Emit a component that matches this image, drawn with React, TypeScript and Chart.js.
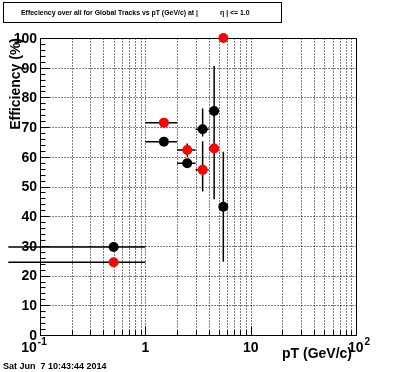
import React, { useEffect, useRef } from "react";
import { Chart, registerables } from "chart.js";

Chart.register(...registerables);

// ---- data ----
const binCenters = [0.5, 1.5, 2.5, 3.5, 4.5, 5.5];
const binLow = [0.05, 1, 2, 3, 4, 5];
const binHigh = [1, 2, 3, 4, 5, 6];
const blackEff = [29.6, 65.1, 57.8, 69.3, 75.4, 43.2];
const blackErrLow = [0, 0, 1.5, 2.5, 15.4, 18.5];
const blackErrHigh = [0, 0, 1.5, 7.0, 15.2, 18.5];
const redEff = [24.5, 71.5, 62.3, 55.6, 62.8, 100];
const redErrLow = [0, 0, 2.3, 7.3, 17.1, 0];
const redErrHigh = [0, 0, 2.2, 9.6, 12.2, 0];

const xMajorTicks = [0.1, 1, 10, 100];
const xMajorBase = ["10", "1", "10", "10"];
const xMajorExp = ["-1", "", "", "2"];
const xMinorTicks = [0.2, 0.3, 0.4, 0.5, 0.6, 0.7, 0.8, 0.9, 2, 3, 4, 5, 6, 7, 8, 9, 20, 30, 40, 50, 60, 70, 80, 90];
const yMajorTicks = [0, 10, 20, 30, 40, 50, 60, 70, 80, 90, 100];
const yMinorTicks = [2, 4, 6, 8, 12, 14, 16, 18, 22, 24, 26, 28, 32, 34, 36, 38, 42, 44, 46, 48, 52, 54, 56, 58, 62, 64, 66, 68, 72, 74, 76, 78, 82, 84, 86, 88, 92, 94, 96, 98];

const titleText = "Effeciency over all for Global Tracks vs pT (GeV/c) at |";
const titleText2 = "\u03b7 | <= 1.0";
const yTitle = "Efficiency (%)";
const xTitle = "pT (GeV/c)";
const dateText = "Sat Jun  7 10:43:44 2014";

const FONT = "'Liberation Sans', Arial, Helvetica, sans-serif";

const rootPlugin = {
  id: "rootStyle",
  beforeDraw(chart: any) {
    const ctx = chart.ctx;
    ctx.save();
    ctx.fillStyle = "#fff";
    ctx.fillRect(0, 0, chart.width, chart.height);
    ctx.restore();
  },
  beforeDatasetsDraw(chart: any) {
    const ctx: CanvasRenderingContext2D = chart.ctx;
    const a = chart.chartArea;
    const xs = chart.scales.x;
    const ys = chart.scales.y;
    const L = Math.round(a.left) + 0.5;
    const R = Math.round(a.right) + 0.5;
    const T = Math.round(a.top) + 0.5;
    const B = Math.round(a.bottom) + 0.5;
    const px = (v: number) => Math.round(xs.getPixelForValue(v)) + 0.5;
    const py = (v: number) => Math.round(ys.getPixelForValue(v)) + 0.5;
    ctx.save();
    ctx.strokeStyle = "#000";
    ctx.fillStyle = "#000";
    ctx.lineWidth = 1;

    // grid
    ctx.setLineDash([1, 2]);
    ctx.beginPath();
    [...xMinorTicks, ...xMajorTicks].forEach((v) => {
      const p = px(v);
      if (p <= L + 1 || p >= R - 1) return;
      ctx.moveTo(p, T);
      ctx.lineTo(p, B);
    });
    yMajorTicks.forEach((v) => {
      const p = py(v);
      if (p <= T + 1 || p >= B - 1) return;
      ctx.moveTo(L, p);
      ctx.lineTo(R, p);
    });
    ctx.stroke();
    ctx.setLineDash([]);

    // frame
    ctx.strokeRect(L, T, R - L, B - T);

    // ticks
    ctx.beginPath();
    yMajorTicks.forEach((v) => {
      const p = py(v);
      ctx.moveTo(L, p);
      ctx.lineTo(L + 9, p);
    });
    yMinorTicks.forEach((v) => {
      const p = py(v);
      ctx.moveTo(L, p);
      ctx.lineTo(L + 5, p);
    });
    xMajorTicks.forEach((v) => {
      const p = px(v);
      ctx.moveTo(p, B);
      ctx.lineTo(p, B - 9);
    });
    xMinorTicks.forEach((v) => {
      const p = px(v);
      ctx.moveTo(p, B);
      ctx.lineTo(p, B - 5);
    });
    ctx.stroke();

    // y tick labels
    ctx.font = `bold 14px ${FONT}`;
    ctx.textAlign = "right";
    ctx.textBaseline = "middle";
    yMajorTicks.forEach((v) => {
      ctx.fillText(String(v), a.left - 3, ys.getPixelForValue(v) + 1);
    });

    // x tick labels
    ctx.textBaseline = "alphabetic";
    xMajorTicks.forEach((v, i) => {
      const base = xMajorBase[i];
      const exp = xMajorExp[i];
      const p = xs.getPixelForValue(v);
      ctx.font = `bold 14px ${FONT}`;
      const wb = ctx.measureText(base).width;
      ctx.font = `bold 10px ${FONT}`;
      const we = exp ? ctx.measureText(exp).width + 1 : 0;
      const shift = i === 0 ? -6 : i === 3 ? 3 : 0;
      const x0 = p - (wb + we) / 2 + shift;
      ctx.textAlign = "left";
      ctx.font = `bold 14px ${FONT}`;
      ctx.fillText(base, x0, 352);
      if (exp) {
        ctx.font = `bold 10px ${FONT}`;
        ctx.fillText(exp, x0 + wb + 1, 345);
      }
    });

    // axis titles
    ctx.font = `bold 14px ${FONT}`;
    ctx.textAlign = "right";
    ctx.fillText(xTitle, a.right - 4, 358);
    ctx.save();
    ctx.translate(20, a.top);
    ctx.rotate(-Math.PI / 2);
    ctx.textAlign = "right";
    ctx.textBaseline = "alphabetic";
    ctx.fillText(yTitle, 0, 0);
    ctx.restore();

    // title box
    ctx.strokeRect(3.5, 2.5, 278, 20);
    ctx.font = `bold 7px ${FONT}`;
    ctx.textAlign = "left";
    ctx.textBaseline = "middle";
    const w1 = ctx.measureText(titleText).width;
    const sc = 177 / w1;
    ctx.font = `bold ${(7 * sc).toFixed(2)}px ${FONT}`;
    ctx.fillText(titleText, 21, 13);
    ctx.fillText(titleText2, 220, 13);

    // date
    ctx.font = `bold 9px ${FONT}`;
    ctx.textBaseline = "alphabetic";
    ctx.fillText(dateText, 3, 369);

    // error bars (drawn unclipped, in black)
    ctx.lineWidth = 1.5;
    ctx.beginPath();
    const bars = (eff: number[], lo: number[], hi: number[]) => {
      eff.forEach((v, i) => {
        const yy = ys.getPixelForValue(v);
        const xc = xs.getPixelForValue(binCenters[i]);
        ctx.moveTo(xs.getPixelForValue(binLow[i]), yy);
        ctx.lineTo(xs.getPixelForValue(binHigh[i]), yy);
        if (lo[i] > 0 || hi[i] > 0) {
          ctx.moveTo(xc, ys.getPixelForValue(v - lo[i]));
          ctx.lineTo(xc, ys.getPixelForValue(v + hi[i]));
        }
      });
    };
    bars(blackEff, blackErrLow, blackErrHigh);
    bars(redEff, redErrLow, redErrHigh);
    ctx.stroke();
    ctx.restore();
  },
};

export default function App() {
  const ref = useRef<HTMLCanvasElement | null>(null);
  useEffect(() => {
    document.body.style.margin = "0";
    if (!ref.current) return;
    const chart = new Chart(ref.current, {
      type: "scatter",
      data: {
        datasets: [
          {
            label: "all",
            data: binCenters.map((x, i) => ({ x, y: blackEff[i] })),
            backgroundColor: "#000",
            borderColor: "#000",
            pointRadius: 5,
            borderWidth: 0,
            clip: false as any,
          },
          {
            label: "global",
            data: binCenters.map((x, i) => ({ x, y: redEff[i] })),
            backgroundColor: "#ff0000",
            borderColor: "#ff0000",
            pointRadius: 5,
            borderWidth: 0,
            clip: false as any,
          },
        ],
      },
      options: {
        responsive: false,
        devicePixelRatio: 1,
        animation: false,
        layout: { padding: { left: 40, right: 40, top: 38, bottom: 37 } },
        scales: {
          x: { type: "logarithmic", min: 0.1, max: 100, display: false },
          y: { type: "linear", min: 0, max: 100, display: false },
        },
        plugins: { legend: { display: false }, tooltip: { enabled: false } },
        events: [],
      },
      plugins: [rootPlugin],
    });
    return () => chart.destroy();
  }, []);
  return (
    <div style={{ position: "fixed", left: 0, top: 0, width: 396, height: 372 }}>
      <canvas ref={ref} width={396} height={372} style={{ width: 396, height: 372, display: "block" }} />
    </div>
  );
}
